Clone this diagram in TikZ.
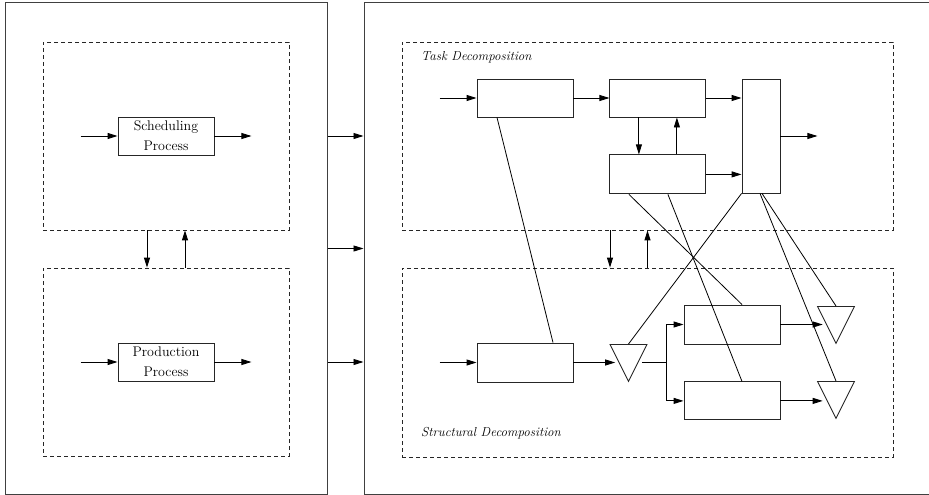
\documentclass[tikz,border=0pt]{standalone}
\usetikzlibrary{positioning,shapes.geometric,arrows.meta}

\begin{document}
\begin{tikzpicture}[x=1pt, y=-1pt, node distance=37pt]

% Define styles
\tikzstyle{panel} = [rectangle, draw=black!75, line width=1pt, inner sep=0pt]
\tikzstyle{group} = [rectangle, draw=black!85, line width=0.8pt, dash pattern=on 4pt off 3pt, inner sep=0pt]
\tikzstyle{block} = [rectangle, draw=black!85, line width=0.9pt, minimum width=96pt, minimum height=38pt, align=center, inner sep=0pt, font=\fontsize{14}{20}\selectfont]
\tikzstyle{split} = [isosceles triangle, isosceles triangle stretches, shape border rotate=270, draw=black!85, line width=0.9pt, minimum width=37pt, minimum height=37pt, inner sep=0pt]
\tikzstyle{label} = [anchor=west, inner sep=0pt, font=\fontsize{13}{16}\selectfont\itshape]
\tikzstyle{arrow} = [-{Triangle[length=10pt,width=6pt]}, line width=0.9pt, draw=black]
\tikzstyle{link} = [line width=0.8pt, draw=black]

\useasboundingbox (0,0) rectangle (929,495);

% Define panels
\node[panel, minimum width=322pt, minimum height=491pt] (leftPanel) at (166,248.5) {};
\node[panel, minimum width=600pt, minimum height=491pt] (rightPanel) at (664,248.5) {};

% Define left side (processes)
\node[group, minimum width=246pt, minimum height=188pt] (schedGroup) at (166,136) {};
\node[group, minimum width=246pt, minimum height=188pt] (prodGroup) at (166,362) {};
\node[block] (sched) at (166,136) {Scheduling\\Process};
\node[block] (prod) at (166,362) {Production\\Process};
\coordinate[left=of sched] (schedIn);
\coordinate[right=of sched] (schedOut);
\coordinate[left=of prod] (prodIn);
\coordinate[right=of prod] (prodOut);

% Define right side (decompositions)
\node[group, minimum width=491pt, minimum height=188pt] (taskGroup) at (647.5,136) {};
\node[group, minimum width=491pt, minimum height=189pt] (structGroup) at (647.5,362.5) {};
\node[label] (taskLabel) at (421,57) {Task Decomposition};
\node[label] (structLabel) at (421,433) {Structural Decomposition};

% Task decomposition blocks
\node[block] (taskA) at (525,98) {};
\node[block, right=36pt of taskA] (taskB) {};
\node[block, below=of taskB, minimum height=39pt] (taskC) {};
\node[block, minimum width=38pt, minimum height=114pt] (taskD) at (761,136) {};
\coordinate[left=of taskA] (taskIn);
\coordinate[right=of taskD] (taskOut);

% Structural decomposition blocks
\node[block, minimum height=39pt] (structA) at (525,362.5) {};
\node[split, anchor=north] (splitA) at (628.5,344) {};
\node[block, minimum height=39pt] (structB) at (732,324.5) {};
\node[block, below=of structB] (structC) {};
\node[split, anchor=north] (splitB) at (836,306) {};
\node[split, anchor=north] (splitC) at (836,381) {};
\coordinate[left=of structA] (structIn);
\coordinate (fork) at (666,362.5);

% Relationships (arrows)
\draw[arrow] (schedIn) -- (sched);
\draw[arrow] (sched) -- (schedOut);
\draw[arrow] (prodIn) -- (prod);
\draw[arrow] (prod) -- (prodOut);
\draw[arrow] ([xshift=-19pt]schedGroup.south) -- ([xshift=-19pt]prodGroup.north);
\draw[arrow] ([xshift=19pt]prodGroup.north) -- ([xshift=19pt]schedGroup.south);

\draw[arrow] (leftPanel.east |- sched) -- (rightPanel.west |- sched);
\draw[arrow] (leftPanel.east) -- (rightPanel.west |- leftPanel.east);
\draw[arrow] (leftPanel.east |- prod) -- (rightPanel.west |- prod);

\draw[arrow] (taskIn) -- (taskA);
\draw[arrow] (taskA) -- (taskB);
\draw[arrow] (taskB) -- (taskB -| taskD.west);
\draw[arrow] (taskC) -- (taskC -| taskD.west);
\draw[arrow] (taskD) -- (taskOut);
\draw[arrow] ([xshift=-19pt]taskB.south) -- ([xshift=-19pt]taskC.north);
\draw[arrow] ([xshift=19pt]taskC.north) -- ([xshift=19pt]taskB.south);
\draw[arrow] ([xshift=-37.5pt]taskGroup.south) -- ([xshift=-37.5pt]structGroup.north);
\draw[arrow] (structGroup.north) -- (taskGroup.south);

\draw[arrow] (structIn) -- (structA);
\draw[arrow] (structA) -- (structA -| splitA.west);
\draw[link] (splitA.east |- structA) -- (fork);
\draw[arrow] (fork) |- (structB);
\draw[arrow] (fork) |- (structC);
\draw[arrow] (structB) -- (structB -| splitB.west);
\draw[arrow] (structC) -- (structC -| splitC.west);

% Cross links
\draw[link] ([xshift=-28pt]taskA.south) -- ([xshift=28pt]structA.north);
\draw[link] ([xshift=-29pt]taskC.south) -- ([xshift=10pt]structB.north);
\draw[link] ([xshift=10pt]taskC.south) -- ([xshift=10pt]structC.north);
\draw[link] (taskD.south west) -- (splitA.north);
\draw[link] ([xshift=-1pt]taskD.south) -- (splitC.north);
\draw[link] ([xshift=1pt]taskD.south) -- (splitB.north);

\end{tikzpicture}
\end{document}
